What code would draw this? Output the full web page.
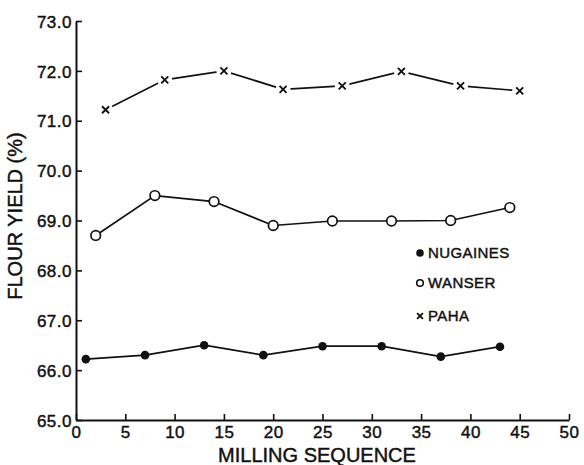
<!DOCTYPE html>
<html>
<head>
<meta charset="utf-8">
<script src="https://cdn.jsdelivr.net/npm/d3@7"></script>
<style>
  body { margin: 0; background: #fff; }
  text { font-family: "Liberation Sans", Arial, sans-serif; fill: #111; stroke: #111; stroke-width: 0.45px; }
</style>
</head>
<body>
<div id="chart"></div>
<script>
// values
var nugainesX = [1, 7, 13, 19, 25, 31, 37, 43];
var nugainesY = [66.22, 66.3, 66.5, 66.3, 66.48, 66.48, 66.27, 66.47];
var wanserX = [2, 8, 14, 20, 26, 32, 38, 44];
var wanserY = [68.7, 69.5, 69.38, 68.9, 68.99, 68.99, 69.0, 69.26];
var pahaX = [3, 9, 15, 21, 27, 33, 39, 45];
var pahaY = [71.22, 71.82, 72.0, 71.63, 71.7, 71.99, 71.7, 71.6];
var xTicks = [0, 5, 10, 15, 20, 25, 30, 35, 40, 45, 50];
var yTicks = [65, 66, 67, 68, 69, 70, 71, 72, 73];
var legendNames = ["NUGAINES", "WANSER", "PAHA"];

var width = 584,
  height = 465;
var margin = { left: 76, right: 15, top: 21, bottom: 45 };

var svg = d3
  .select("#chart")
  .append("svg")
  .attr("width", width)
  .attr("height", height);

var x = d3
  .scaleLinear()
  .domain([0, 50])
  .range([margin.left, width - margin.right]);
var y = d3
  .scaleLinear()
  .domain([65, 73])
  .range([height - margin.bottom, margin.top]);

var zip = function(xs, ys) {
  return xs.map(function(v, i) {
    return [v, ys[i]];
  });
};

// axes: ticks point into the plot
var xAxis = svg
  .append("g")
  .attr("transform", "translate(0," + y(65) + ")")
  .call(
    d3
      .axisBottom(x)
      .tickValues(xTicks)
      .tickSizeInner(-6)
      .tickSizeOuter(0)
      .tickPadding(9)
      .tickFormat(d3.format("d"))
  );
var yAxis = svg
  .append("g")
  .attr("transform", "translate(" + x(0) + ",0)")
  .call(
    d3
      .axisLeft(y)
      .tickValues(yTicks)
      .tickSizeInner(-6)
      .tickSizeOuter(0)
      .tickPadding(4)
      .tickFormat(d3.format(".1f"))
  );
[xAxis, yAxis].forEach(function(g) {
  g.select(".domain")
    .attr("stroke", "#111")
    .attr("stroke-width", 2);
  g.selectAll(".tick line")
    .attr("stroke", "#111")
    .attr("stroke-width", 1.6);
  g.selectAll(".tick text")
    .style("font-size", "17px")
    .style("letter-spacing", "0.5px")
    .attr("fill", "#111");
});
xAxis.selectAll(".tick text").attr("dy", "0.55em");
yAxis.selectAll(".tick text").attr("dy", "0.36em");

// axis titles
svg
  .append("text")
  .attr("x", 317)
  .attr("y", 462)
  .attr("text-anchor", "middle")
  .style("font-size", "20px")
  .text("MILLING SEQUENCE");
svg
  .append("text")
  .attr("transform", "translate(22,216) rotate(-90)")
  .attr("text-anchor", "middle")
  .style("font-size", "20px")
  .text("FLOUR YIELD (%)");

var line = d3
  .line()
  .x(function(d) {
    return x(d[0]);
  })
  .y(function(d) {
    return y(d[1]);
  });

var drawCross = function(g, cx, cy, s) {
  g.append("path")
    .attr(
      "d",
      "M" + (cx - s) + "," + (cy - s) + "L" + (cx + s) + "," + (cy + s) +
        "M" + (cx - s) + "," + (cy + s) + "L" + (cx + s) + "," + (cy - s)
    )
    .attr("stroke", "#111")
    .attr("stroke-width", 1.9);
};

var drawSeries = function(pts, kind) {
  svg
    .append("path")
    .datum(pts)
    .attr("d", line)
    .attr("fill", "none")
    .attr("stroke", "#111")
    .attr("stroke-width", 1.7);
  var g = svg.append("g");
  pts.forEach(function(p) {
    var cx = x(p[0]),
      cy = y(p[1]);
    if (kind === "filled") {
      g.append("circle")
        .attr("cx", cx)
        .attr("cy", cy)
        .attr("r", 4.3)
        .attr("fill", "#111");
    } else if (kind === "open") {
      g.append("circle")
        .attr("cx", cx)
        .attr("cy", cy)
        .attr("r", 4.8)
        .attr("fill", "#fff")
        .attr("stroke", "#111")
        .attr("stroke-width", 1.7);
    } else {
      // gap in the line around each cross
      g.append("circle")
        .attr("cx", cx)
        .attr("cy", cy)
        .attr("r", 7.5)
        .attr("fill", "#fff");
      drawCross(g, cx, cy, 3.5);
    }
  });
};

drawSeries(zip(nugainesX, nugainesY), "filled");
drawSeries(zip(wanserX, wanserY), "open");
drawSeries(zip(pahaX, pahaY), "cross");

// legend
var legendY = [253, 283, 316];
legendNames.forEach(function(name, i) {
  var ly = legendY[i];
  if (i === 0) {
    svg
      .append("circle")
      .attr("cx", 420)
      .attr("cy", ly)
      .attr("r", 3.8)
      .attr("fill", "#111");
  } else if (i === 1) {
    svg
      .append("circle")
      .attr("cx", 420)
      .attr("cy", ly)
      .attr("r", 3.3)
      .attr("fill", "none")
      .attr("stroke", "#111")
      .attr("stroke-width", 1.6);
  } else {
    drawCross(svg, 420, ly, 2.9);
  }
  svg
    .append("text")
    .attr("x", 428)
    .attr("y", ly)
    .attr("dy", "0.36em")
    .style("font-size", "15px")
    .style("letter-spacing", "0.4px")
    .text(name);
});
</script>
</body>
</html>
